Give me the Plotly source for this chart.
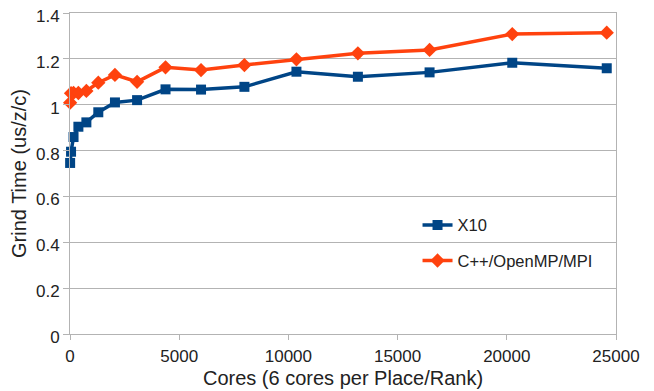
import plotly.graph_objects as go

cores = [6, 48, 162, 384, 750, 1296, 2058, 3072, 4374, 6000, 7986, 10368, 13182, 16464, 20250, 24576]
x10 = [0.746, 0.795, 0.859, 0.904, 0.923, 0.967, 1.010, 1.020, 1.067, 1.066, 1.078, 1.144, 1.122, 1.141, 1.183, 1.159]
cpp = [1.009, 1.050, 1.052, 1.051, 1.060, 1.096, 1.130, 1.100, 1.163, 1.151, 1.173, 1.198, 1.224, 1.239, 1.308, 1.314]

x_ticks = [0, 5000, 10000, 15000, 20000, 25000]
y_ticks = [0, 0.2, 0.4, 0.6, 0.8, 1, 1.2, 1.4]

FONT = "Liberation Sans, Arial, sans-serif"
GRID = "#b3b3b3"

fig = go.Figure()
fig.add_trace(go.Scatter(
    x=cores, y=x10, name="X10", mode="lines+markers", legendgroup="a",
    line=dict(color="#004586", width=3.5),
    marker=dict(symbol="square", size=10, color="#004586"),
    cliponaxis=False,
))
fig.add_trace(go.Scatter(
    x=cores, y=cpp, name="C++/OpenMP/MPI", mode="lines+markers", legendgroup="b",
    line=dict(color="#ff420e", width=3.5),
    marker=dict(symbol="diamond", size=11, color="#ff420e"),
    cliponaxis=False,
))

fig.update_layout(
    width=646, height=383,
    margin=dict(l=62, r=38, t=5, b=57),
    paper_bgcolor="white", plot_bgcolor="white",
    font=dict(family=FONT, size=16, color="#222222"),
    legend=dict(x=0.6365, y=0.284, xanchor="left", yanchor="middle",
                bgcolor="rgba(0,0,0,0)", tracegroupgap=11,
                font=dict(size=16.5, color="#222222")),
    xaxis=dict(
        range=[0, 25000], tickvals=x_ticks, tickformat="d", showgrid=False, zeroline=False,
        showline=True, mirror=True, linecolor=GRID, linewidth=1,
        ticks="outside", ticklen=5, tickcolor=GRID, automargin=False,
        tickfont=dict(size=17), ticklabelstandoff=2, ticklabeloverflow="allow",
        title=dict(text="Cores (6 cores per Place/Rank)", font=dict(size=20), standoff=5),
    ),
    yaxis=dict(
        range=[0, 1.4], tickvals=y_ticks, showgrid=True, gridcolor=GRID, gridwidth=1,
        zeroline=False, showline=True, mirror=True, linecolor=GRID, linewidth=1,
        ticks="outside", ticklen=6, tickcolor=GRID, automargin=False,
        tickfont=dict(size=17), ticklabeloverflow="allow", ticklabelshift=3,
        title=dict(text="Grind Time (us/z/c)", font=dict(size=20), standoff=6),
    ),
)

fig.write_html("out.html")
